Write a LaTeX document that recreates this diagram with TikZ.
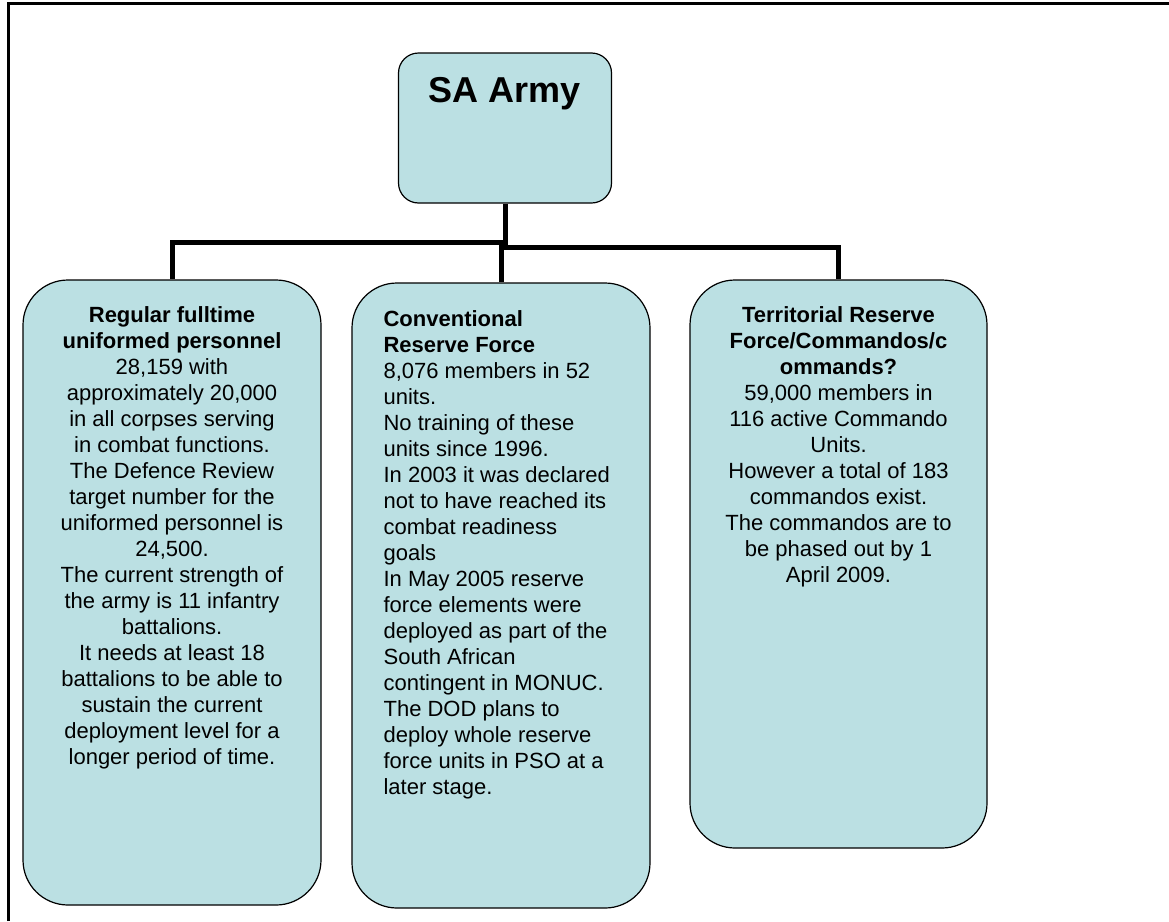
\documentclass[tikz,border=0pt]{standalone}
\usepackage{fontspec}
\setmainfont{Liberation Sans}
\usepackage{xcolor}
\usepackage{tikz}
\definecolor{panelblue}{RGB}{187, 224, 227}
\usetikzlibrary{positioning}

\begin{document}
\begin{tikzpicture}[
    x=1pt, y=-1pt,
    panel/.style={rectangle, draw=black, line width=1.2pt, fill=panelblue, rounded corners=45pt, inner sep=0pt},
    paneltext/.style={inner sep=0pt, font=\fontsize{22}{26}\selectfont},
    link/.style={line width=5pt},
    frame/.style={line width=3pt}
]
    \useasboundingbox (0,0) rectangle (1169,921);
    \draw[frame] (8,921) -- (8,3) -- (1169,3);

    \node[panel, rounded corners=20pt, minimum width=213pt, minimum height=150pt] (army) at (505,128) {};
    \node[paneltext, font=\fontsize{36}{40}\selectfont\bfseries, below=25pt of army.north] (armytext) {SA Army};

    \node[panel, minimum width=298pt, minimum height=625pt] (regular) at (172,592.5) {};
    \node[paneltext, align=center, below=27pt of regular.north] (regulartext) {\textbf{Regular fulltime}\\\textbf{uniformed personnel}\\28,159 with\\approximately 20,000\\in all corpses serving\\in combat functions.\\The Defence Review\\target number for the\\uniformed personnel is\\24,500.\\The current strength of\\the army is 11 infantry\\battalions.\\It needs at least 18\\battalions to be able to\\sustain the current\\deployment level for a\\longer period of time.};

    \node[panel, minimum width=298pt, minimum height=625pt] (conv) at (501,595.5) {};
    \node[paneltext, align=left, anchor=north west, below right=28pt and 32pt of conv.north west] (convtext) {\textbf{Conventional}\\\textbf{Reserve Force}\\8,076 members in 52\\units.\\No training of these\\units since 1996.\\In 2003 it was declared\\not to have reached its\\combat readiness\\goals\\In May 2005 reserve\\force elements were\\deployed as part of the\\South African\\contingent in MONUC.\\The DOD plans to\\deploy whole reserve\\force units in PSO at a\\later stage.};

    \node[panel, minimum width=297pt, minimum height=568pt] (terr) at (838.5,564) {};
    \node[paneltext, align=center, below=27pt of terr.north] (terrtext) {\textbf{Territorial Reserve}\\\textbf{Force/Commandos/c}\\\textbf{ommands?}\\59,000 members in\\116 active Commando\\Units.\\However a total of 183\\commandos exist.\\The commandos are to\\be phased out by 1\\April 2009.};

    % org chart lines
    \coordinate (forkL) at (505,242);
    \coordinate (forkR) at (502,247);
    \draw[link] (army.south) -- (forkL) -| (regular.north);
    \draw[link] (conv.north) |- (forkR) -| (terr.north);
\end{tikzpicture}
\end{document}
